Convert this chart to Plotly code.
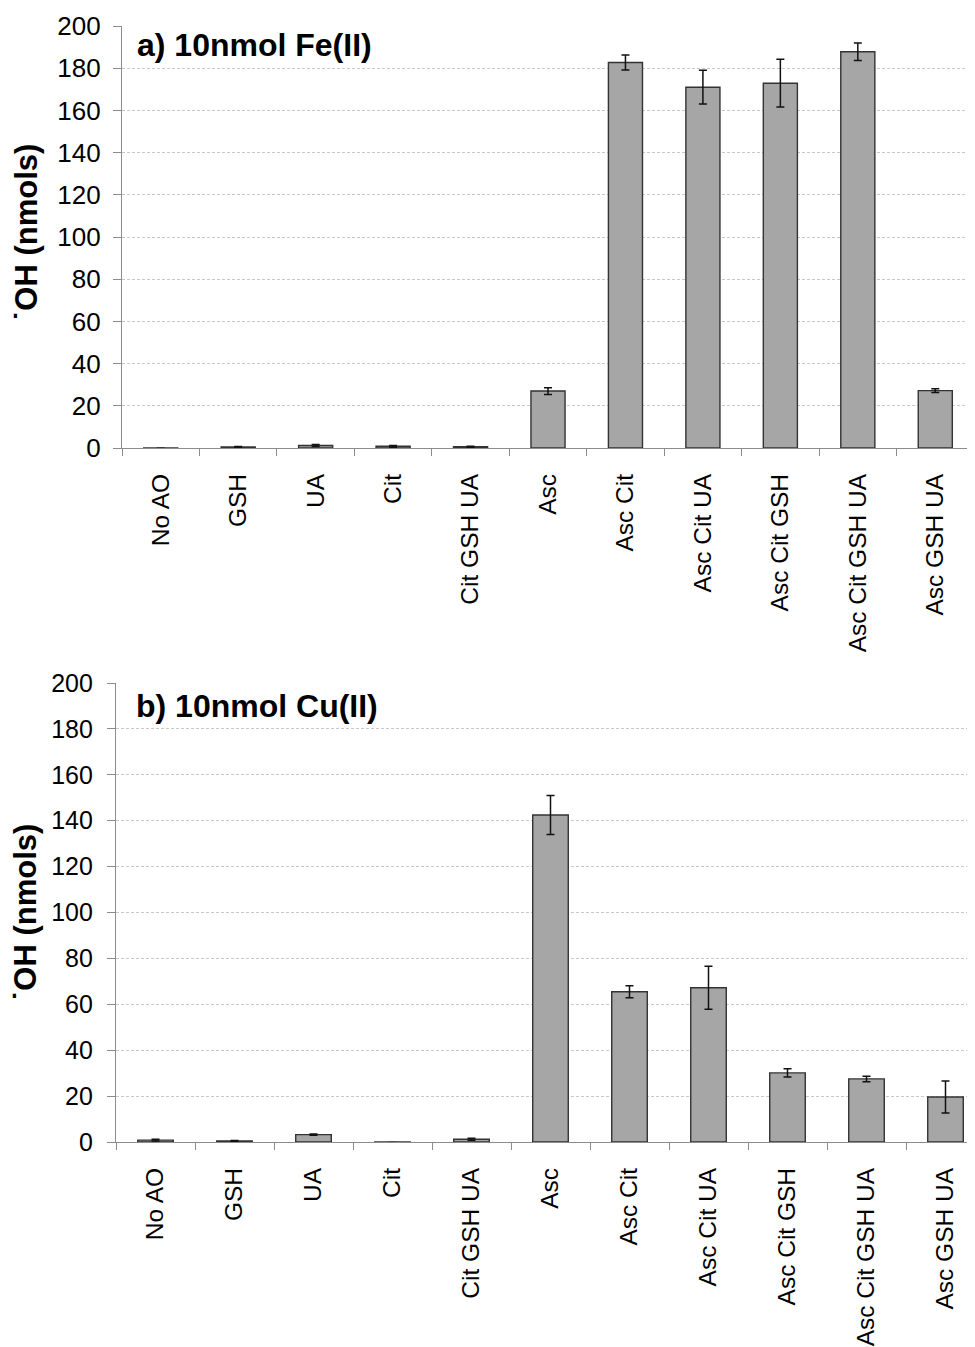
import plotly.graph_objects as go

categories = ["No AO", "GSH", "UA", "Cit", "Cit GSH UA", "Asc", "Asc Cit",
              "Asc Cit UA", "Asc Cit GSH", "Asc Cit GSH UA", "Asc GSH UA"]

fe_values = [-0.3, 0.5, 1.2, 0.8, 0.6, 27.0, 182.7, 171.0, 172.9, 187.8, 27.2]
fe_errors = [0.2, 0.2, 0.5, 0.4, 0.2, 1.6, 3.6, 8.0, 11.3, 4.2, 0.9]

cu_values = [0.8, 0.5, 3.2, -0.3, 1.2, 142.5, 65.5, 67.2, 30.1, 27.5, 19.6]
cu_errors = [0.4, 0.2, 0.3, 0.1, 0.4, 8.5, 2.6, 9.4, 1.8, 1.2, 7.0]

titles = ["a) 10nmol Fe(II)", "b) 10nmol Cu(II)"]
y_title = "˙OH (nmols)"
y_ticks = [0, 20, 40, 60, 80, 100, 120, 140, 160, 180, 200]

OFF = 8  # page body margin
W, H = 975 - OFF, 1347 - OFF
FONT = "Liberation Sans, Arial, sans-serif"


def px(xv):
    return (xv - OFF) / W


def py(yv):
    return 1 - (yv - OFF) / H


fig = go.Figure()

# x1 = where the category axis would end (panel b runs past the page edge)
panels = [
    dict(vals=fe_values, errs=fe_errors, x0=122, x1=974, ytop=26, ybot=448,
         width=0.44, ycen=233, tcy=45, tx=13, ystand=7, ytf=26),
    dict(vals=cu_values, errs=cu_errors, x0=116, x1=985, ytop=683, ybot=1142,
         width=0.45, ycen=913, tcy=706, tx=18, ystand=9, ytf=25),
]

n = len(categories)
for i, p in enumerate(panels):
    xa = "x" if i == 0 else "x2"
    ya = "y" if i == 0 else "y2"
    fig.add_trace(go.Bar(
        x=categories, y=p["vals"], xaxis=xa, yaxis=ya,
        width=p["width"],
        marker=dict(color="#a6a6a6", line=dict(color="#333333", width=1.4)),
        error_y=dict(type="data", array=p["errs"], visible=True,
                     color="#111111", thickness=1.5, width=4),
        showlegend=False,
    ))
    key = "" if i == 0 else "2"
    step = (p["x1"] - p["x0"]) / n
    vis_right = min(p["x1"], 975)
    r_end = -0.5 + (vis_right - p["x0"]) / step
    fig.layout["xaxis" + key] = dict(
        domain=[px(p["x0"]), px(vis_right)], anchor=ya,
        type="category", tickangle=-90, tickson="boundaries",
        range=[-0.5, r_end],
        ticks="outside", ticklen=7, tickcolor="#8c8c8c", tickwidth=1,
        showline=True, linecolor="#8c8c8c", linewidth=1.3,
        showgrid=False, zeroline=False,
        tickfont=dict(family=FONT, size=24.5, color="#000"),
        ticklabelstandoff=15, automargin=False,
    )
    fig.layout["yaxis" + key] = dict(
        domain=[py(p["ybot"]), py(p["ytop"])], anchor=xa,
        range=[0, 200], tickvals=y_ticks,
        ticks="outside", ticklen=8, tickcolor="#8c8c8c",
        showline=True, linecolor="#8c8c8c", linewidth=1.3,
        showgrid=True, gridcolor="#c8c8c8", griddash="3px,2px", gridwidth=1,
        zeroline=False,
        tickfont=dict(family=FONT, size=p["ytf"], color="#000"),
        ticklabelstandoff=p["ystand"], automargin=False,
    )
    fig.add_annotation(
        text="<b>" + titles[i] + "</b>", xref="paper", yref="paper",
        x=px(p["x0"] + p["tx"]), y=py(p["tcy"]),
        xanchor="left", yanchor="middle", showarrow=False,
        font=dict(family=FONT, size=32, color="#000"),
    )
    fig.add_annotation(
        text="<b>" + y_title + "</b>", xref="paper", yref="paper",
        x=px(26), y=py(p["ycen"]),
        xanchor="center", yanchor="middle", textangle=-90, showarrow=False,
        font=dict(family=FONT, size=31, color="#000"),
    )

fig.update_layout(
    width=W, height=H, margin=dict(l=0, r=0, t=0, b=0),
    plot_bgcolor="white", paper_bgcolor="white", bargap=0.5,
)

fig.write_html("out.html")
